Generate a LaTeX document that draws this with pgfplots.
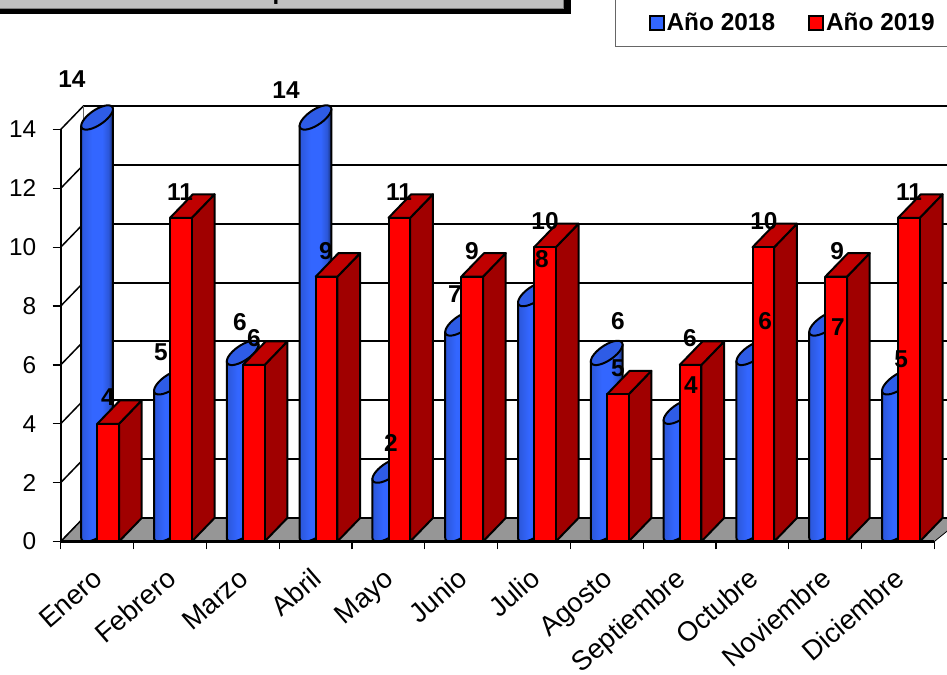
\documentclass[border=0pt]{standalone}
\usepackage{pgfplots}
\usepackage{pgfplotstable}
\pgfplotsset{compat=1.18}
\usepackage{fontspec}
\setmainfont{Liberation Sans}
\definecolor{cblue}{HTML}{3366FF}
\definecolor{ctop}{HTML}{2E5CE6}
\definecolor{cred}{HTML}{FF0000}
\definecolor{credtop}{HTML}{C00000}
\definecolor{credside}{HTML}{A00000}
\definecolor{cfloor}{HTML}{969696}
\definecolor{ctitle}{HTML}{C0C0C0}
\pgfdeclarehorizontalshading{bluecyl}{100bp}{color(0bp)=(blue!60!cblue); color(25bp)=(cblue!85!black); color(42bp)=(cblue); color(58bp)=(cblue); color(68bp)=(cblue!85!black); color(75bp)=(cblue!45!black); color(100bp)=(cblue!45!black)}
\pgfplotstableread{
mes b r
0 14 4
1 5 11
2 6 6
3 14 9
4 2 11
5 7 9
6 8 10
7 6 5
8 4 6
9 6 10
10 7 9
11 5 11
}\datos
\pgfplotstableread{
x y lab
0.155 15.72 14
1.378 6.44 5
2.463 7.46 6
3.095 15.34 14
4.537 3.35 2
5.416 8.41 7
6.611 9.60 8
7.655 7.49 6
8.658 5.32 4
9.675 7.49 6
10.677 7.29 7
11.543 6.20 5
}\labblue
\pgfplotstableread{
x y lab
0.650 4.91 4
1.639 11.88 11
2.655 6.91 6
3.644 9.87 9
4.647 11.88 11
5.650 9.87 9
6.653 10.89 10
7.655 5.90 5
8.644 6.91 6
9.660 10.89 10
10.664 9.87 9
11.652 11.88 11
}\labred
\def\dx{0.312}
\def\dy{0.7985}
\pgfplotsset{poly/.style={forget plot, draw=black, line width=2bp, line join=round, mark=none}}
% builds an elliptic arc (centre #1,#2) between angles #3 and #4 into \arcpts
\newcommand\mkarc[4]{%
  \gdef\arcpts{}%
  \pgfplotsforeachungrouped \k in {0,...,16}{%
    \pgfmathsetmacro\tt{#3+(#4-#3)*\k/16}%
    \pgfmathsetmacro\px{#1+0.206*cos(\tt)-0.0714*sin(\tt)}%
    \pgfmathsetmacro\py{#2+0.367*cos(\tt)+0.190*sin(\tt)}%
    \xdef\arcpts{\arcpts (\px,\py)}%
  }%
}
\begin{document}
\begin{tikzpicture}[x=1bp,y=1bp]
\path[use as bounding box, clip] (0,0) rectangle (947,675);
% title box, cut by the top edge of the picture
\fill[black] (-5,660.5) rectangle (570.5,690);
\fill[ctitle] (-5,666.5) rectangle (563,690);
\draw[gray,line width=0.6bp] (-5,666.5) -- (563,666.5) -- (563,690);
\node[font=\bfseries\fontsize{24}{28}\selectfont,anchor=base,inner sep=0pt] at (280,675.5) {p};
\begin{axis}[
  at={(60.7bp,133.5bp)}, anchor=south west,
  scale only axis, width=873.6bp, height=412bp,
  xmin=0, xmax=12, ymin=0, ymax=14,
  clip=false,
  axis lines=left,
  axis line style={-, line width=1.9bp, black},
  xtick={0,...,12}, xticklabels={},
  extra x ticks={0.5,1.5,2.5,3.5,4.5,5.5,6.5,7.5,8.5,9.5,10.5,11.5},
  extra x tick labels={Enero,Febrero,Marzo,Abril,Mayo,Junio,Julio,Agosto,Septiembre,Octubre,Noviembre,Diciembre},
  extra x tick style={major tick length=0pt},
  x tick label style={rotate=41, anchor=north east, font=\fontsize{27.5}{30}\selectfont, inner sep=0pt, yshift=-15.6bp, xshift=-20.5bp},
  ytick={0,2,...,14},
  y tick label style={font=\fontsize{24.5}{28}\selectfont, xshift=-13bp},
  /pgf/number format/assume math mode=true,
  tick align=outside, major tick length=8bp,
  tick style={black, line width=1.2bp},
  legend style={at={(0.6345,1.2)}, anchor=south west, draw=black!60, line width=1.2bp,
    legend columns=2, inner xsep=33bp, inner ysep=12bp,
    font=\bfseries\fontsize{24.5}{28}\selectfont,
    /tikz/column 2/.style={column sep=31bp}},
  legend cell align=left,
]
% floor
\addplot[poly, fill=cfloor, line width=0.8bp] coordinates {(0,0) (\dx,\dy) (12.4,\dy) (12,0)} -- cycle;
% walls: grid on the back wall and on the left wall
\pgfplotsforeachungrouped \v in {0,2,...,14}{%
  \pgfmathsetmacro\w{\v+\dy}%
  \pgfmathsetmacro\xe{12+\dx}%
  \edef\tmp{\noexpand\addplot[forget plot, black, line width=2.1bp, mark=none] coordinates {(\dx,\w) (\xe,\w)};
    \noexpand\addplot[forget plot, black, line width=1.5bp, mark=none] coordinates {(0,\v) (\dx,\w)};}%
  \tmp
}
\pgfmathsetmacro\wtop{14+\dy}
\addplot[forget plot, black!60, line width=1.3bp, mark=none] coordinates {(\dx,\dy) (\dx,\wtop)};
% bars
\pgfplotsforeachungrouped \i in {0,...,11}{%
  \pgfplotstablegetelem{\i}{b}\of\datos \let\vb\pgfplotsretval
  \pgfplotstablegetelem{\i}{r}\of\datos \let\vr\pgfplotsretval
  \pgfmathsetmacro\cx{\i+0.5}%
  % blue cylinder: base arc, then top ellipse
  \pgfmathsetmacro\yb{0.408}%
  \pgfmathsetmacro\yt{\vb+0.408}%
  \mkarc{\cx}{\yb}{160.9}{340.9}\let\basepts\arcpts
  \pgfmathsetmacro\xr{\cx+0.218}\pgfmathsetmacro\yr{\yt+0.284}%
  \pgfmathsetmacro\xl{\cx-0.218}\pgfmathsetmacro\yl{\yt-0.284}%
  \edef\tmp{\noexpand\addplot[poly, shade, shading=bluecyl] coordinates {\basepts (\xr,\yr) (\xl,\yl)} -- cycle;}\tmp
  \mkarc{\cx}{\yt}{0}{180}\let\upa\arcpts
  \mkarc{\cx}{\yt}{180}{360}\let\upb\arcpts
  \edef\tmp{\noexpand\addplot[poly, fill=ctop] coordinates {\upa \upb} -- cycle;}\tmp
  % red prism
  \pgfmathsetmacro\xa{\i+0.503}\pgfmathsetmacro\xb{\i+0.801}%
  \pgfmathsetmacro\xc{\xa+\dx}\pgfmathsetmacro\xd{\xb+\dx}%
  \pgfmathsetmacro\yu{\vr+\dy}%
  \edef\tmp{\noexpand\addplot[poly, fill=credside] coordinates {(\xb,0) (\xd,\dy) (\xd,\yu) (\xb,\vr)} -- cycle;
    \noexpand\addplot[poly, fill=credtop] coordinates {(\xa,\vr) (\xc,\yu) (\xd,\yu) (\xb,\vr)} -- cycle;
    \noexpand\addplot[poly, fill=cred] coordinates {(\xa,0) (\xa,\vr) (\xb,\vr) (\xb,0)} -- cycle;}\tmp
}
\addplot[forget plot, black, line width=2.1bp, mark=none] coordinates {(0,0) (12,0)};
% data labels
\addplot[forget plot, draw=none, mark=none, point meta=explicit symbolic, nodes near coords,
  nodes near coords style={anchor=center, inner sep=0pt, font=\bfseries\fontsize{24.5}{28}\selectfont, black}]
  table[x=x, y=y, meta=lab] {\labblue};
\addplot[forget plot, draw=none, mark=none, point meta=explicit symbolic, nodes near coords,
  nodes near coords style={anchor=center, inner sep=0pt, font=\bfseries\fontsize{24.5}{28}\selectfont, black}]
  table[x=x, y=y, meta=lab] {\labred};
\addlegendimage{legend image code/.code={\draw[fill=cblue,draw=black,line width=2bp] (0bp,-7bp) rectangle (14bp,7bp);}}
\addlegendentry{Año 2018}
\addlegendimage{legend image code/.code={\draw[fill=cred,draw=black,line width=2bp] (0bp,-7bp) rectangle (14bp,7bp);}}
\addlegendentry{Año 2019}
\end{axis}
\end{tikzpicture}
\end{document}
